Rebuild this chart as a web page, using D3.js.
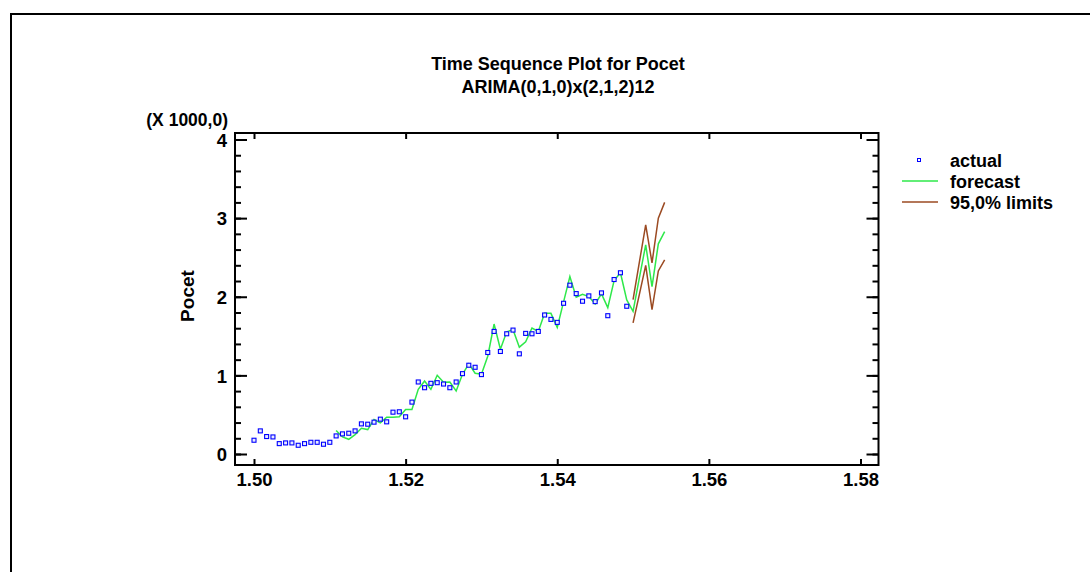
<!DOCTYPE html>
<html>
<head>
<meta charset="utf-8">
<script src="https://cdn.jsdelivr.net/npm/d3@7"></script>
<style>
  body { margin: 0; background: #fff; }
  svg { display: block; font-family: Arial, "Liberation Sans", sans-serif; }
</style>
</head>
<body>
<svg id="chart" width="1090" height="572"></svg>
<script>
// ---- data (values in thousands) ----
const startX = 1.50;            // first period
const step = 1 / 1200;          // monthly step on the axis
const actual = [0.175, 0.294, 0.222, 0.217, 0.132, 0.141, 0.141, 0.111, 0.132, 0.149, 0.149, 0.124,
  0.149, 0.230, 0.256, 0.264, 0.294, 0.383, 0.379, 0.405, 0.443, 0.409, 0.532, 0.537,
  0.473, 0.660, 0.916, 0.843, 0.899, 0.907, 0.890, 0.843, 0.916, 1.022, 1.129, 1.103,
  1.010, 1.291, 1.559, 1.304, 1.529, 1.576, 1.274, 1.534, 1.529, 1.559, 1.768, 1.712,
  1.674, 1.917, 2.147, 2.040, 1.943, 2.011, 1.938, 2.049, 1.759, 2.219, 2.305, 1.879];
const forecastStart = 13;
const forecast = [0.298, 0.217, 0.187, 0.247, 0.328, 0.311, 0.439, 0.396, 0.469, 0.469, 0.473,
  0.567, 0.567, 0.822, 0.929, 0.822, 1.001, 0.912, 0.916, 0.801, 1.014, 1.146, 1.027,
  1.014, 1.244, 1.653, 1.333, 1.555, 1.580, 1.359, 1.427, 1.602, 1.559, 1.789, 1.789,
  1.610, 1.934, 2.258, 1.994, 2.032, 2.002, 1.908, 2.036, 1.862, 2.207, 2.305, 1.960,
  1.815, 2.240, 2.660, 2.130, 2.673, 2.829];
const limitsStart = 60;
const upper = [1.964, 2.440, 2.915, 2.431, 2.999, 3.200];
const lower = [1.668, 2.030, 2.400, 1.836, 2.328, 2.470];
const xTicks = [1.50, 1.52, 1.54, 1.56, 1.58];
const yTicks = [0, 1, 2, 3, 4];
const yMinorTicks = d3.range(0, 4.01, 0.2);
const legendItems = ["actual", "forecast", "95,0% limits"];

// ---- layout ----
const svg = d3.select("#chart");
const box = { left: 235, right: 878.5, top: 133, bottom: 465 };
const x = d3.scaleLinear().domain([1.50, 1.58]).range([254, 860.5]);
const y = d3.scaleLinear().domain([0, 4]).range([454, 139.5]);
const green = "#2ee84a", brown = "#9b4a22", blue = "#0000ff";
const FONT = "Arial, 'Liberation Sans', sans-serif";

// outer frame
svg.append("path").attr("d", "M11,572 L11,14 L1090,14")
  .attr("fill", "none").attr("stroke", "#000").attr("stroke-width", 2);

// titles
svg.append("text").attr("x", 558).attr("y", 70).attr("text-anchor", "middle")
  .attr("font-size", 18).attr("font-weight", "bold").text("Time Sequence Plot for Pocet");
svg.append("text").attr("x", 558).attr("y", 93).attr("text-anchor", "middle")
  .attr("font-size", 18).attr("font-weight", "bold").text("ARIMA(0,1,0)x(2,1,2)12");

// axes with D3 axis generators (ticks inward)
const fmtX = d3.format(".2f");
const gb = svg.append("g").attr("transform", `translate(0,${box.bottom})`)
  .call(d3.axisBottom(x).tickValues(xTicks).tickFormat(fmtX).tickSizeInner(-6).tickSizeOuter(0).tickPadding(9));
const gt = svg.append("g").attr("transform", `translate(0,${box.top})`)
  .call(d3.axisTop(x).tickValues(xTicks).tickFormat("").tickSizeInner(-6).tickSizeOuter(0));
const gl = svg.append("g").attr("transform", `translate(${box.left},0)`)
  .call(d3.axisLeft(y).tickValues(yTicks).tickFormat(d3.format("d")).tickSizeInner(-12).tickSizeOuter(0));
const glm = svg.append("g").attr("transform", `translate(${box.left},0)`)
  .call(d3.axisLeft(y).tickValues(yMinorTicks).tickFormat("").tickSizeInner(-6).tickSizeOuter(0));
const gr = svg.append("g").attr("transform", `translate(${box.right},0)`)
  .call(d3.axisRight(y).tickValues(yTicks).tickFormat("").tickSizeInner(-12).tickSizeOuter(0));
const grm = svg.append("g").attr("transform", `translate(${box.right},0)`)
  .call(d3.axisRight(y).tickValues(yMinorTicks).tickFormat("").tickSizeInner(-6).tickSizeOuter(0));
[gb, gt, gl, glm, gr, grm].forEach(g => {
  g.select(".domain").remove();
  g.selectAll("line").attr("stroke", "#000").attr("stroke-width", 2);
  g.selectAll("text").attr("font-size", 18.5).attr("font-weight", "bold")
    .attr("font-family", FONT).attr("fill", "#000");
});
gl.selectAll("text").attr("x", -8).attr("dy", "0.36em");
gb.selectAll("text").attr("y", 0).attr("dy", null).attr("transform", "translate(0,21)");

// plot frame
svg.append("rect").attr("x", box.left).attr("y", box.top)
  .attr("width", box.right - box.left).attr("height", box.bottom - box.top)
  .attr("fill", "none").attr("stroke", "#000").attr("stroke-width", 2);

// axis labels
svg.append("text").attr("x", 228).attr("y", 125.5).attr("text-anchor", "end")
  .attr("font-size", 17.5).attr("font-weight", "bold").text("(X 1000,0)");
svg.append("text").attr("transform", "translate(194,296) rotate(-90)").attr("text-anchor", "middle")
  .attr("font-size", 19).attr("font-weight", "bold").text("Pocet");

// series
const xi = i => x(startX + i * step);
const line = d3.line().x(d => xi(d.i)).y(d => y(d.v));
const fData = forecast.map((v, k) => ({ i: forecastStart + k, v }));
const uData = upper.map((v, k) => ({ i: limitsStart + k, v }));
const lData = lower.map((v, k) => ({ i: limitsStart + k, v }));
svg.append("path").datum(uData).attr("d", line).attr("fill", "none").attr("stroke", brown).attr("stroke-width", 1.5);
svg.append("path").datum(lData).attr("d", line).attr("fill", "none").attr("stroke", brown).attr("stroke-width", 1.5);
svg.append("path").datum(fData).attr("d", line).attr("fill", "none").attr("stroke", green).attr("stroke-width", 1.5);

svg.append("g").selectAll("rect").data(actual).join("rect")
  .attr("x", (d, i) => xi(i) - 2).attr("y", d => y(d) - 2)
  .attr("width", 4).attr("height", 4)
  .attr("fill", "#e8ecff").attr("stroke", blue).attr("stroke-width", 1.1);

// legend
const lg = svg.append("g");
const ly = [160, 181, 202];
lg.append("rect").attr("x", 917.5).attr("y", ly[0] - 1.5).attr("width", 3).attr("height", 3)
  .attr("fill", "#fff").attr("stroke", blue).attr("stroke-width", 1);
lg.append("line").attr("x1", 902).attr("x2", 938).attr("y1", ly[1]).attr("y2", ly[1]).attr("stroke", green).attr("stroke-width", 1.5);
lg.append("line").attr("x1", 902).attr("x2", 938).attr("y1", ly[2]).attr("y2", ly[2]).attr("stroke", brown).attr("stroke-width", 1.5);
lg.selectAll("text").data(legendItems).join("text")
  .attr("x", 950).attr("y", (d, i) => ly[i] + 6.5)
  .attr("font-size", 18).attr("font-weight", "bold").text(d => d);
</script>
</body>
</html>
